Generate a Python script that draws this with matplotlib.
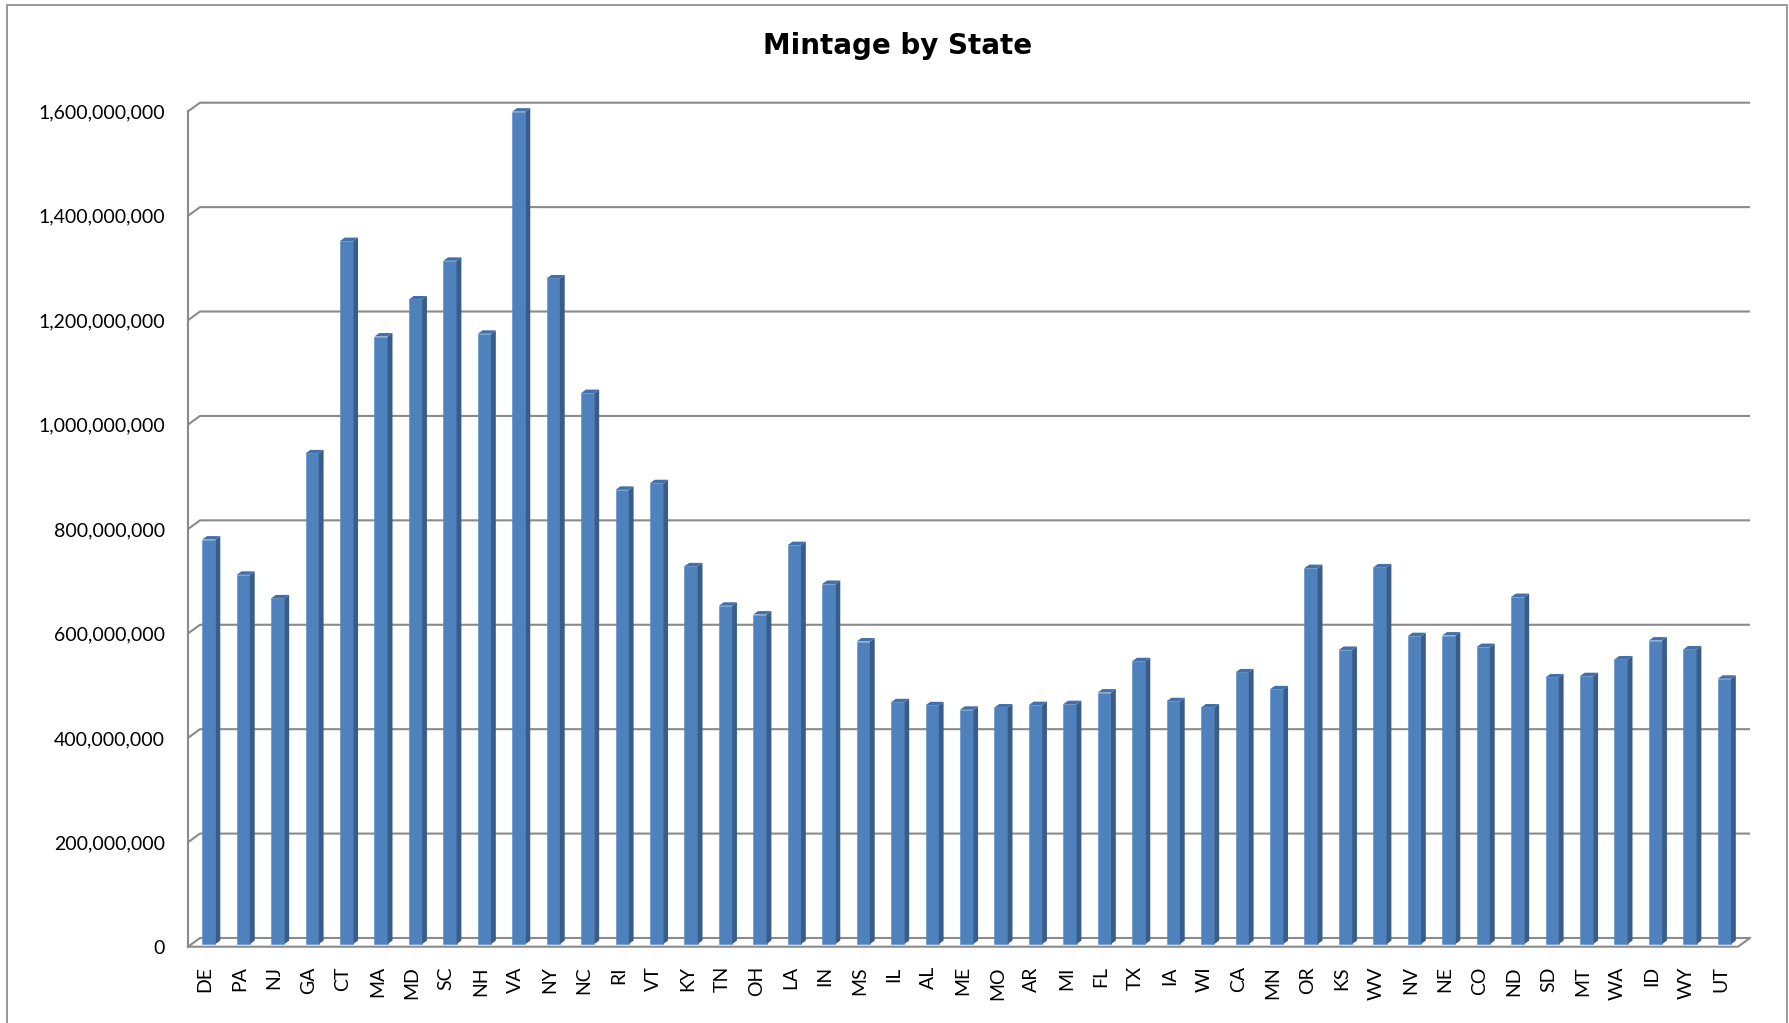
import numpy as np
import matplotlib
matplotlib.use('Agg')
import matplotlib.pyplot as plt
from matplotlib.patches import Polygon, Rectangle
from matplotlib.ticker import FuncFormatter

plt.rcParams['font.family'] = ['Lato', 'DejaVu Sans']

# 数据
states = ['DE', 'PA', 'NJ', 'GA', 'CT', 'MA', 'MD', 'SC', 'NH', 'VA',
          'NY', 'NC', 'RI', 'VT', 'KY', 'TN', 'OH', 'LA', 'IN', 'MS',
          'IL', 'AL', 'ME', 'MO', 'AR', 'MI', 'FL', 'TX', 'IA', 'WI',
          'CA', 'MN', 'OR', 'KS', 'WV', 'NV', 'NE', 'CO', 'ND', 'SD',
          'MT', 'WA', 'ID', 'WY', 'UT']
mintage = [774824000, 707332000, 662228000, 939932000, 1346624000,
           1163784000, 1234732000, 1308784000, 1169016000, 1594616000,
           1275040000, 1055476000, 870100000, 882804000, 723564000,
           648068000, 631200000, 764204000, 689800000, 579600000,
           463200000, 457400000, 448800000, 453200000, 457800000,
           459600000, 481800000, 541800000, 465200000, 453200000,
           520400000, 488000000, 720200000, 563400000, 721600000,
           589800000, 591000000, 569000000, 664800000, 510800000,
           513240000, 545200000, 581400000, 564400000, 508200000]
yticks = list(range(0, 1600000001, 200000000))

W, H = 1790, 1023
fig = plt.figure(figsize=(W / 100, H / 100), dpi=100)

# 前平面 (像素)
left_px, right_px, base_px, top_px = 188, 1738, 946.7, 111.4
ax = fig.add_axes([left_px / W, 1 - base_px / H,
                   (right_px - left_px) / W, (base_px - top_px) / H])
n = len(states)
ymax = yticks[-1]
ax.set_xlim(-0.5, n - 0.5)
ax.set_ylim(0, ymax)

px_x = n / (right_px - left_px)
px_y = ymax / (base_px - top_px)
DX, DY = 12 * px_x, 8.7 * px_y   # 地板深度

grid_c = '#8a8a8a'
# 背景网格线 + 左侧斜线
for v in yticks:
    ax.plot([-0.5, -0.5 + DX, n - 0.5 + DX], [v, v + DY, v + DY],
            color=grid_c, lw=1.5, clip_on=False, zorder=1,
            solid_capstyle='butt')
ax.plot([-0.5, -0.5], [0, ymax], color=grid_c, lw=1.5, clip_on=False, zorder=1)
# 地板
ax.plot([-0.5, n - 0.5, n - 0.5 + DX], [0, 0, DY], color=grid_c, lw=1.5,
        clip_on=False, zorder=1)

# 柱子
f1, f2 = 0.3, 0.7
bw = 0.386
d = f2 - f1
x0 = np.arange(n) - bw / 2 + f1 * DX
b = f1 * DY
ax.bar(x0, mintage, width=bw, bottom=b, align='edge', color='#4F81BD',
       edgecolor='#5a8ac4', linewidth=0.4, zorder=3, clip_on=False)
for xi, v in zip(x0, mintage):
    xr = xi + bw
    side = [(xr, b), (xr + d * DX, b + d * DY), (xr + d * DX, b + v + d * DY), (xr, b + v)]
    top = [(xi, b + v), (xr, b + v), (xr + d * DX, b + v + d * DY), (xi + d * DX, b + v + d * DY)]
    ax.add_patch(Polygon(side, closed=True, fc='#385D8A', ec='none', zorder=3, clip_on=False))
    ax.add_patch(Polygon(top, closed=True, fc='#4270AA', ec='none', zorder=3, clip_on=False))

# 坐标轴
ax.set_yticks(yticks)
ax.yaxis.set_major_formatter(FuncFormatter(lambda v, p: '{:,}'.format(int(v))))
ax.set_xticks(range(n))
ax.set_xticklabels(states, rotation=90)
ax.tick_params(axis='y', length=0, pad=16.5, labelsize=14)
ax.tick_params(axis='x', length=0, pad=14, labelsize=14)
for s in ax.spines.values():
    s.set_visible(False)
ax.patch.set_alpha(0)

fig.text(897.5 / W, 1 - 46 / H, 'Mintage by State', ha='center', va='center',
         fontsize=20, fontweight='bold', family=['DejaVu Sans'])

# 图表边框
fig.add_artist(Rectangle((7 / W, -0.05), (1787 - 7) / W, 1 - 5 / H + 0.05,
                         transform=fig.transFigure, fill=False,
                         ec='#888888', lw=1.2))

fig.savefig('out.png', dpi=100)
